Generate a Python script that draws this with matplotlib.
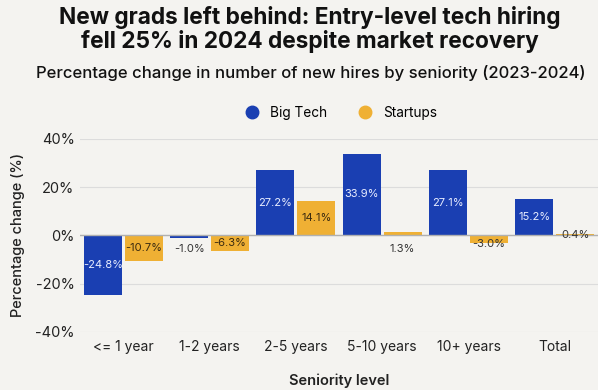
import matplotlib.pyplot as plt
import numpy as np

plt.rcParams['font.family'] = ['Inter', 'DejaVu Sans']

categories = ["<= 1 year", "1-2 years", "2-5 years", "5-10 years", "10+ years", "Total"]
big_tech = [-24.8, -1.0, 27.2, 33.9, 27.1, 15.2]
startups = [-10.7, -6.3, 14.1, 1.3, -3.0, 0.4]
y_ticks = [-40, -20, 0, 20, 40]

BLUE = "#1a3fb2"
ORANGE = "#efb034"
BG = "#f4f3f0"

fig = plt.figure(figsize=(5.98, 3.90), dpi=100, facecolor=BG)
ax = fig.add_axes([0.134, 0.149, 0.866, 0.495], facecolor=BG)

x = np.arange(len(categories))
w = 0.44
off = 0.237
b1 = ax.bar(x - off, big_tech, w, color=BLUE, zorder=3)
b2 = ax.bar(x + off, startups, w, color=ORANGE, zorder=3)

ax.set_xlim(-0.5, len(categories) - 0.5)
ax.set_ylim(-40, 40)
ax.set_yticks(y_ticks)
ax.set_yticklabels([f"{t}%" for t in y_ticks], fontsize=10.5, color="#222222")
ax.set_xticks(x)
ax.set_xticklabels(categories, fontsize=10, color="#222222")
ax.tick_params(length=0, pad=6)
ax.tick_params(axis="y", pad=4)
for s in ax.spines.values():
    s.set_visible(False)
ax.grid(axis="y", color="#dcdcdc", linewidth=0.8, zorder=0)
ax.axhline(0, color="#b0b0b0", linewidth=1.0, zorder=4)

# bar labels: middle of bar, small bars get nudged below
for bars, vals, inner in [(b1, big_tech, "#e8edff"), (b2, startups, "#3a2a10")]:
    for bar, v in zip(bars, vals):
        cx = bar.get_x() + bar.get_width() / 2
        if abs(v) < 0.5:
            y, c = 0.2, "#333333"
        elif abs(v) < 2:
            y, c = -5.5, "#333333"
        elif abs(v) < 4:
            y, c = -3.4, "#333333"
        else:
            y, c = v / 2, inner
        ax.text(cx, y, f"{v:.1f}%", ha="center", va="center", fontsize=8,
                color=c, zorder=5)

ax.set_ylabel("Percentage change (%)", fontsize=10.5, fontweight="medium",
              color="#222222", labelpad=7)
ax.set_xlabel("Seniority level", fontsize=10.5, fontweight="semibold",
              color="#222222", labelpad=14)

fig.text(0.518, 0.924, "New grads left behind: Entry-level tech hiring\nfell 25% in 2024 despite market recovery",
         ha="center", va="center", fontsize=16.3, fontweight="bold",
         color="#111111", linespacing=1.08)
fig.text(0.52, 0.812, "Percentage change in number of new hires by seniority (2023-2024)",
         ha="center", va="center", fontsize=12, fontweight="medium", color="#111111")

leg_handles = [plt.Line2D([], [], marker="o", linestyle="", markersize=9, color=BLUE),
               plt.Line2D([], [], marker="o", linestyle="", markersize=9, color=ORANGE)]
fig.legend(leg_handles, ["Big Tech", "Startups"], loc="center", bbox_to_anchor=(0.565, 0.71),
           ncol=2, frameon=False, fontsize=9.8, handletextpad=0.3, columnspacing=1.8)

fig.savefig("out.png", dpi=100, facecolor=BG)
